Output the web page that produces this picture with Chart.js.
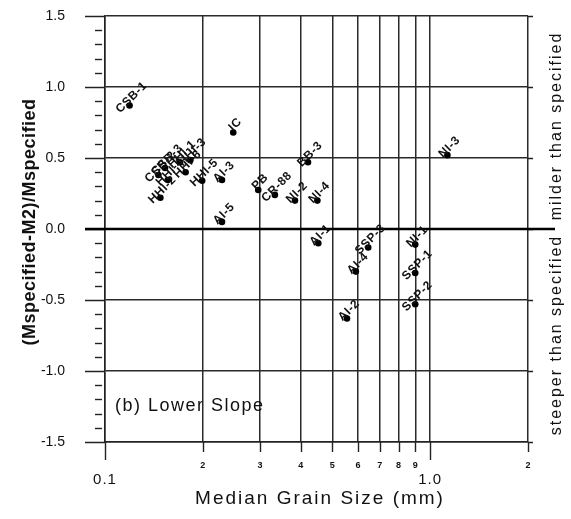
<!DOCTYPE html>
<html lang="en">
<head>
<meta charset="UTF-8">
<title>Lower Slope</title>
<script src="https://cdn.jsdelivr.net/npm/chart.js"></script>
<style>
  html, body { margin: 0; padding: 0; background: #fff; }
  #caixa { width: 571px; height: 519px; }
</style>
</head>
<body>
<div id="caixa"><canvas id="grafico"></canvas></div>
<script>
// sites, median grain size (mm) and (Mspecified-M2)/Mspecified
const sites = ['CSB-1', 'IC', 'CSB-2', 'CSB-3', 'HHI-4', 'HHI-1', 'HHI-6', 'HHI-3', 'HHI-2', 'HHI-5',
    'AI-3', 'AI-5', 'PB', 'CR-88', 'NI-2', 'NI-4', 'BB-3', 'AI-1', 'SSP-3', 'AI-4', 'AI-2',
    'NI-1', 'SSP-1', 'SSP-2', 'NI-3'];
const grainSize = [0.119, 0.248, 0.146, 0.153, 0.156, 0.170, 0.177, 0.183, 0.148, 0.199,
    0.229, 0.229, 0.296, 0.333, 0.384, 0.450, 0.421, 0.453, 0.645, 0.591, 0.555,
    0.900, 0.900, 0.900, 1.130];
const slopeRatio = [0.87, 0.68, 0.38, 0.43, 0.345, 0.47, 0.40, 0.485, 0.22, 0.34,
    0.345, 0.05, 0.275, 0.24, 0.20, 0.20, 0.47, -0.10, -0.13, -0.30, -0.63,
    -0.11, -0.31, -0.53, 0.52];

const xTicks = [0.1, 0.2, 0.3, 0.4, 0.5, 0.6, 0.7, 0.8, 0.9, 1.0, 2.0];
const xTickLabels = ['0.1', '2', '3', '4', '5', '6', '7', '8', '9', '1.0', '2'];
const yTicks = [-1.5, -1.0, -0.5, 0.0, 0.5, 1.0, 1.5];
const yTickLabels = ['-1.5', '-1.0', '-0.5', '0.0', '0.5', '1.0', '1.5'];

const fonte = "'Liberation Sans', Arial, Helvetica, sans-serif";

// ticks, labels and annotations drawn on top of the chart
const extras = {
    id: 'extras',
    beforeDatasetsDraw(chart) {
        const ctx = chart.ctx;
        const x = chart.scales.x, y = chart.scales.y;
        const a = chart.chartArea;
        ctx.save();
        ctx.strokeStyle = '#222';
        ctx.lineWidth = 1.4;
        // minor ticks on the left axis
        for (let i = -15; i <= 15; i++) {
            const py = Math.round(y.getPixelForValue(i / 10)) + 0.5;
            ctx.beginPath();
            if (i % 5 === 0) {
                ctx.moveTo(a.left - 20, py);
                ctx.lineTo(a.left, py);
                ctx.moveTo(a.right, py);
                ctx.lineTo(a.right + 5, py);
            } else {
                ctx.moveTo(a.left - 10, py);
                ctx.lineTo(a.left - 3, py);
            }
            ctx.stroke();
        }
        // ticks under the x axis
        xTicks.forEach(v => {
            const px = Math.round(x.getPixelForValue(v)) + 0.5;
            const longo = (v === 0.1 || v === 1.0);
            ctx.beginPath();
            ctx.moveTo(px, a.bottom);
            ctx.lineTo(px, a.bottom + (longo ? 18 : 10));
            ctx.stroke();
        });
        // zero line
        ctx.strokeStyle = '#000';
        ctx.lineWidth = 2.6;
        const p0 = y.getPixelForValue(0);
        ctx.beginPath();
        ctx.moveTo(a.left - 20, p0);
        ctx.lineTo(a.right + 27, p0);
        ctx.stroke();
        ctx.restore();
    },
    afterDraw(chart) {
        const ctx = chart.ctx;
        const x = chart.scales.x, y = chart.scales.y;
        const a = chart.chartArea;
        ctx.save();
        ctx.fillStyle = '#111';

        // y tick labels
        ctx.font = '14px ' + fonte;
        ctx.textAlign = 'right';
        ctx.textBaseline = 'middle';
        yTicks.forEach((v, i) => {
            ctx.fillText(yTickLabels[i], a.left - 40, y.getPixelForValue(v));
        });

        // x tick labels
        ctx.textAlign = 'center';
        xTicks.forEach((v, i) => {
            const px = x.getPixelForValue(v);
            if (v === 0.1 || v === 1.0) {
                ctx.font = '15px ' + fonte;
                ctx.letterSpacing = '1px';
                ctx.fillText(xTickLabels[i], px, a.bottom + 38);
            } else {
                ctx.font = 'bold 9px ' + fonte;
                ctx.letterSpacing = '0px';
                ctx.fillText(xTickLabels[i], px, a.bottom + 24);
            }
        });

        // axis titles
        ctx.font = '19px ' + fonte;
        ctx.letterSpacing = '2px';
        ctx.fillText('Median Grain Size (mm)', 320, 499);

        ctx.save();
        ctx.translate(30, 222);
        ctx.rotate(-Math.PI / 2);
        ctx.font = 'bold 18px ' + fonte;
        ctx.letterSpacing = '0.5px';
        ctx.fillText('(Mspecified-M2)/Mspecified', 0, 0);
        ctx.restore();

        // side notes
        ctx.font = '16px ' + fonte;
        ctx.letterSpacing = '2px';
        ctx.save();
        ctx.translate(557, 126);
        ctx.rotate(-Math.PI / 2);
        ctx.fillText('milder than specified', 0, 0);
        ctx.restore();
        ctx.save();
        ctx.translate(557, 335);
        ctx.rotate(-Math.PI / 2);
        ctx.fillText('steeper than specified', 0, 0);
        ctx.restore();

        // panel title
        ctx.font = '18px ' + fonte;
        ctx.letterSpacing = '1.5px';
        ctx.textAlign = 'left';
        ctx.fillText('(b) Lower Slope', 115, 406);

        // site names beside the points
        ctx.font = 'bold 12px ' + fonte;
        ctx.letterSpacing = '0.5px';
        ctx.textAlign = 'center';
        const meta = chart.getDatasetMeta(0);
        meta.data.forEach((pt, i) => {
            ctx.save();
            ctx.translate(pt.x + 2, pt.y - 8);
            ctx.rotate(-Math.PI / 4);
            ctx.fillText(sites[i], 0, 0);
            ctx.restore();
        });
        ctx.restore();
    }
};

const pontos = grainSize.map((g, i) => ({ x: g, y: slopeRatio[i] }));

new Chart(document.getElementById('grafico'), {
    type: 'scatter',
    data: {
        datasets: [{
            label: 'Lower Slope',
            data: pontos,
            pointRadius: 3.3,
            pointHoverRadius: 3.3,
            backgroundColor: '#000',
            borderColor: '#000',
            borderWidth: 0
        }]
    },
    options: {
        responsive: true,
        maintainAspectRatio: false,
        animation: false,
        events: [],
        layout: { padding: { left: 105, right: 43, top: 16, bottom: 77 } },
        plugins: {
            legend: { display: false },
            tooltip: { enabled: false }
        },
        scales: {
            x: {
                type: 'logarithmic',
                min: 0.1,
                max: 2,
                afterBuildTicks: axis => {
                    axis.ticks = xTicks.map(v => ({ value: v }));
                },
                ticks: { display: false },
                grid: { color: '#2a2a2a', lineWidth: 1.5, drawTicks: false },
                border: { color: '#222', width: 1.5 }
            },
            y: {
                min: -1.5,
                max: 1.5,
                afterBuildTicks: axis => {
                    axis.ticks = yTicks.map(v => ({ value: v }));
                },
                ticks: { display: false },
                grid: { color: '#2a2a2a', lineWidth: 1.5, drawTicks: false },
                border: { color: '#222', width: 1.5 }
            }
        }
    },
    plugins: [extras]
});
</script>
</body>
</html>
